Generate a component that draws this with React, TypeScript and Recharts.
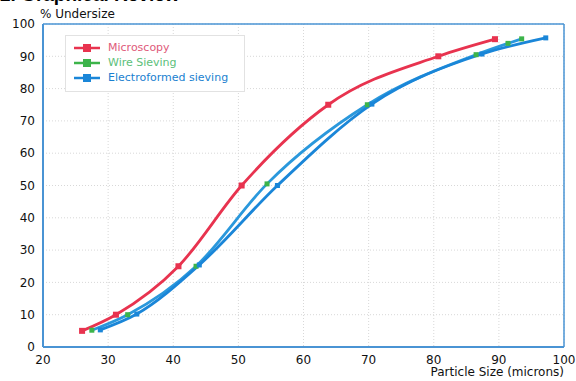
import React from "react";
import { LineChart, Line, XAxis, YAxis, CartesianGrid, ReferenceLine } from "recharts";

const microscopySize = [26, 31.2, 40.8, 50.5, 63.8, 80.7, 89.4];
const microscopyPct = [5, 10, 25, 50, 75, 90, 95.3];

const wireSize = [27.5, 33, 43.5, 54.4, 69.8, 86.5, 91.4, 93.5];
const wirePct = [5.2, 10, 25, 50.5, 75, 90.5, 94, 95.4];

const electroSize = [28.8, 34.4, 44, 56, 70.5, 87.4, 97.2];
const electroPct = [5.3, 10.2, 25.4, 50, 75.2, 90.7, 95.7];

const xTicks = [20, 30, 40, 50, 60, 70, 80, 90, 100];
const yTicks = [0, 10, 20, 30, 40, 50, 60, 70, 80, 90, 100];

const RED = "#e8334f";
const GREEN = "#3cb44a";
const BLUE = "#1a86d8";
const AXIS = "#4a94d4";
const FONT = "'DejaVu Sans', Verdana, sans-serif";

const toRows = (xs: number[], ys: number[]) => xs.map((x, i) => ({ x, y: ys[i] }));

const squareDot = (color: string, size: number) => (props: any) => {
  const { cx, cy, index } = props;
  if (cx == null || cy == null) return <g key={index} />;
  return (
    <rect
      key={index}
      x={cx - size / 2}
      y={cy - size / 2}
      width={size}
      height={size}
      fill={color}
    />
  );
};

const legendItems = [
  { name: "Microscopy", color: RED, text: "#e05a7a" },
  { name: "Wire Sieving", color: GREEN, text: "#5cc07a" },
  { name: "Electroformed sieving", color: BLUE, text: "#1a7fd0" },
];

export default function App() {
  return (
    <div style={{ position: "absolute", left: 0, top: 0, width: 576, height: 381, overflow: "hidden", background: "#fff", fontFamily: FONT }}>
      <div style={{ position: "absolute", left: 0, top: -16, fontSize: 19, lineHeight: "22px", fontWeight: "bold", color: "#000", fontFamily: "'Liberation Sans', Arial, sans-serif" }}>
        2. Graphical Review
      </div>
      <div style={{ position: "absolute", left: 40, top: 7, fontSize: 12, lineHeight: "14px", color: "#111" }}>% Undersize</div>
      <div style={{ position: "absolute", right: 12, top: 365, fontSize: 12, color: "#111" }}>Particle Size (microns)</div>
      <LineChart width={576} height={381} margin={{ top: 24, right: 12, left: 8, bottom: 14 }}>
        <CartesianGrid stroke="#d8d8d8" strokeDasharray="1 2" />
        <XAxis
          type="number"
          dataKey="x"
          domain={[20, 100]}
          ticks={xTicks}
          height={20}
          stroke={AXIS}
          strokeWidth={2}
          tickLine={false}
          tick={{ fill: "#111", fontSize: 12, fontFamily: FONT }}
          allowDuplicatedCategory={false}
        />
        <YAxis
          type="number"
          domain={[0, 100]}
          ticks={yTicks}
          width={35}
          stroke={AXIS}
          strokeWidth={2}
          tickLine={false}
          tick={{ fill: "#111", fontSize: 12, fontFamily: FONT }}
        />
        <ReferenceLine y={100} stroke={AXIS} strokeWidth={1.5} />
        <ReferenceLine x={100} stroke={AXIS} strokeWidth={1.5} />
        <Line
          data={toRows(wireSize, wirePct)}
          dataKey="y"
          type="monotone"
          stroke="#2a98dc"
          strokeWidth={2.8}
          dot={squareDot(GREEN, 5)}
          isAnimationActive={false}
        />
        <Line
          data={toRows(electroSize, electroPct)}
          dataKey="y"
          type="monotone"
          stroke={BLUE}
          strokeWidth={2.8}
          dot={squareDot(BLUE, 5)}
          isAnimationActive={false}
        />
        <Line
          data={toRows(microscopySize, microscopyPct)}
          dataKey="y"
          type="monotone"
          stroke={RED}
          strokeWidth={2.8}
          dot={squareDot(RED, 6)}
          isAnimationActive={false}
        />
      </LineChart>
      <div style={{ position: "absolute", left: 65, top: 35, width: 180, height: 57, border: "1px solid #e2e2e2", background: "#fff", boxSizing: "border-box", padding: "4px 0 0 8px" }}>
        {legendItems.map((it) => (
          <div key={it.name} style={{ display: "flex", alignItems: "center", height: 15 }}>
            <svg width={26} height={10} style={{ marginRight: 8 }}>
              <line x1={0} y1={5} x2={26} y2={5} stroke={it.color} strokeWidth={2.5} />
              <rect x={9} y={1} width={8} height={8} fill={it.color} />
            </svg>
            <span style={{ fontSize: 11, color: it.text }}>{it.name}</span>
          </div>
        ))}
      </div>
    </div>
  );
}
